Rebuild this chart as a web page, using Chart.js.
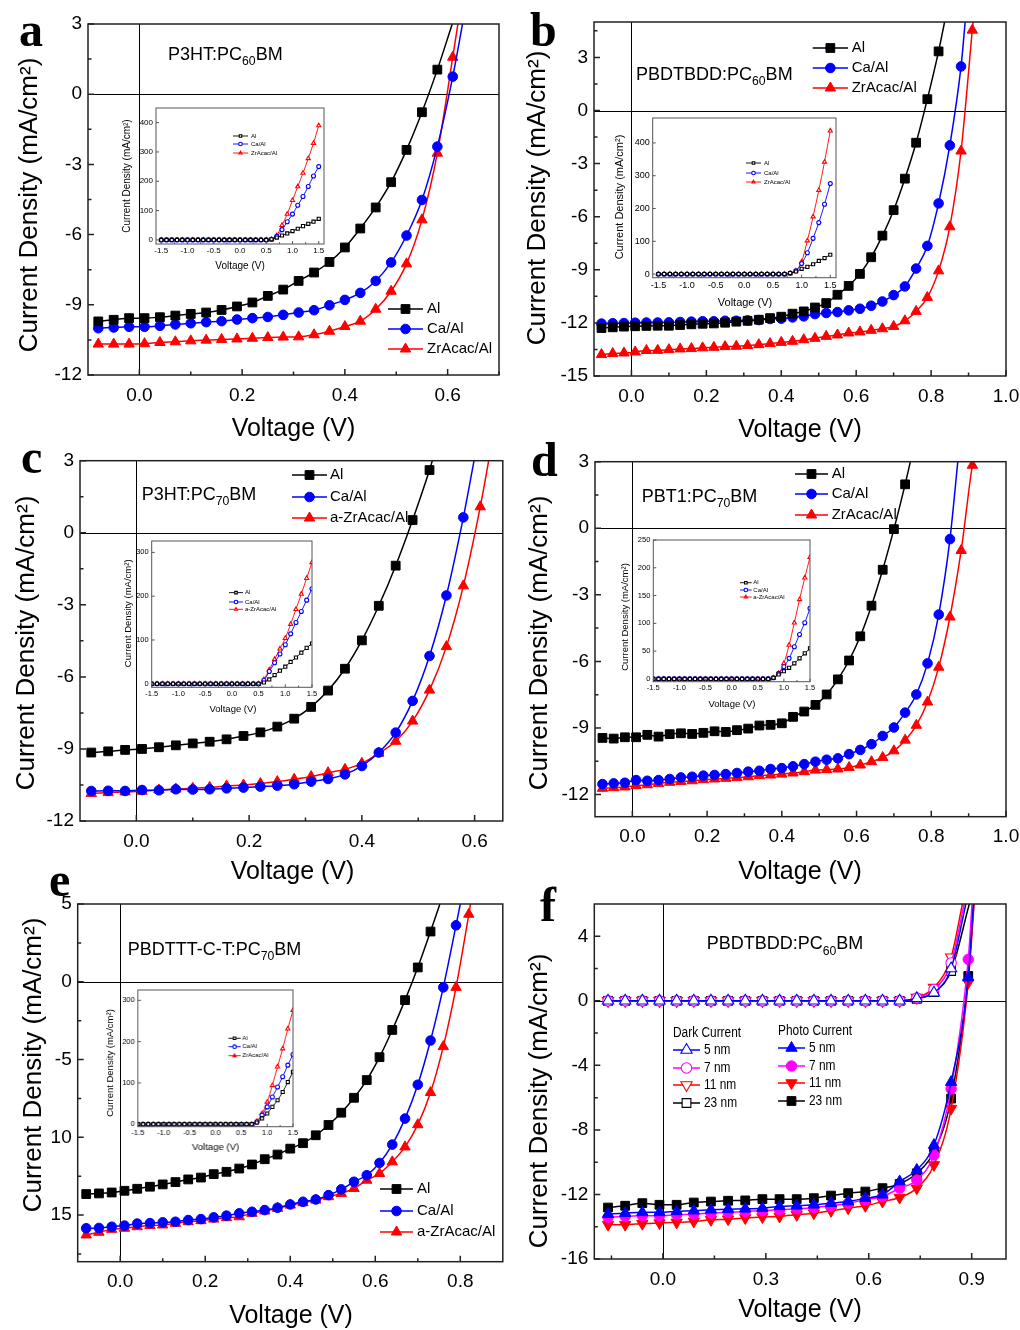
<!DOCTYPE html>
<html>
<head>
<meta charset="utf-8">
<title>J-V curves</title>
<script src="https://cdn.jsdelivr.net/npm/chart.js@4.4.1/dist/chart.umd.min.js"></script>
<style>
  html, body { margin: 0; padding: 0; background: #fff; }
  body { position: relative; width: 1020px; height: 1330px; overflow: hidden; }
  canvas { position: absolute; }
</style>
</head>
<body>
<script>
// ---------- panel a: P3HT:PC60BM ----------
const aV = [-0.08, -0.05, -0.02, 0.01, 0.04, 0.07, 0.10, 0.13, 0.16, 0.19, 0.22, 0.25, 0.28, 0.31, 0.34, 0.37, 0.40, 0.43, 0.46, 0.49, 0.52, 0.55, 0.58, 0.61]
const aAl = [-9.71, -9.64, -9.57, -9.57, -9.53, -9.46, -9.39, -9.33, -9.22, -9.07, -8.90, -8.62, -8.35, -7.98, -7.62, -7.17, -6.55, -5.74, -4.84, -3.76, -2.38, -0.77, 1.05]
const aCa = [-10.0, -9.97, -9.94, -9.94, -9.90, -9.84, -9.79, -9.74, -9.70, -9.63, -9.57, -9.52, -9.43, -9.33, -9.23, -9.02, -8.79, -8.49, -7.98, -7.19, -6.04, -4.52, -2.24, 0.75]
const aZr = [-10.68, -10.68, -10.68, -10.66, -10.61, -10.58, -10.54, -10.51, -10.48, -10.46, -10.43, -10.40, -10.38, -10.37, -10.28, -10.13, -9.93, -9.70, -9.19, -8.42, -7.25, -5.37, -2.52, 1.58]
const aExit = [0.609, 0.629, 0.620] // voltage where each curve leaves the top of the frame

// ---------- panel b: PBDTBDD:PC60BM ----------
const bV = [-0.08, -0.05, -0.02, 0.01, 0.04, 0.07, 0.10, 0.13, 0.16, 0.19, 0.22, 0.25, 0.28, 0.31, 0.34, 0.37, 0.40, 0.43, 0.46, 0.49, 0.52, 0.55, 0.58, 0.61, 0.64, 0.67, 0.70, 0.73, 0.76, 0.79, 0.82, 0.85, 0.88, 0.91]
const bAl = [-12.29, -12.25, -12.21, -12.19, -12.17, -12.16, -12.16, -12.12, -12.08, -12.05, -12.03, -11.99, -11.93, -11.88, -11.82, -11.73, -11.65, -11.48, -11.35, -11.13, -10.88, -10.41, -9.91, -9.23, -8.29, -7.07, -5.63, -3.85, -1.82, 0.64, 3.34]
const bCa = [-12.04, -12.02, -12.01, -11.99, -11.98, -11.98, -11.97, -11.95, -11.93, -11.91, -11.91, -11.88, -11.88, -11.86, -11.84, -11.78, -11.76, -11.69, -11.63, -11.50, -11.44, -11.39, -11.29, -11.20, -11.03, -10.79, -10.43, -9.94, -8.93, -7.65, -5.25, -1.97, 2.49]
const bZr = [-13.79, -13.73, -13.70, -13.64, -13.56, -13.55, -13.51, -13.47, -13.45, -13.41, -13.38, -13.34, -13.32, -13.28, -13.23, -13.17, -13.10, -13.04, -12.95, -12.87, -12.76, -12.68, -12.57, -12.51, -12.42, -12.33, -12.20, -11.88, -11.35, -10.56, -9.06, -6.57, -2.29, 4.54]
const bExit = [0.836, 0.891, 0.912]

// ---------- panel c: P3HT:PC70BM ----------
const cV = [-0.08, -0.05, -0.02, 0.01, 0.04, 0.07, 0.10, 0.13, 0.16, 0.19, 0.22, 0.25, 0.28, 0.31, 0.34, 0.37, 0.40, 0.43, 0.46, 0.49, 0.52, 0.55, 0.58, 0.61]
const cAl = [-9.15, -9.10, -9.04, -9.00, -8.93, -8.85, -8.77, -8.70, -8.60, -8.46, -8.31, -8.07, -7.74, -7.25, -6.57, -5.66, -4.48, -3.04, -1.37, 0.53, 2.61]
const cCa = [-10.75, -10.74, -10.75, -10.71, -10.72, -10.68, -10.69, -10.68, -10.64, -10.61, -10.57, -10.53, -10.47, -10.36, -10.25, -10.06, -9.71, -9.15, -8.32, -7.00, -5.13, -2.61, 0.64]
const cZr = [-10.85, -10.82, -10.79, -10.76, -10.71, -10.67, -10.64, -10.60, -10.54, -10.50, -10.44, -10.36, -10.26, -10.15, -9.99, -9.85, -9.60, -9.18, -8.68, -7.84, -6.55, -4.74, -2.21, 1.08]
const cExit = [0.525, 0.599, 0.625]

// ---------- panel d: PBT1:PC70BM ----------
const dV = [-0.08, -0.05, -0.02, 0.01, 0.04, 0.07, 0.10, 0.13, 0.16, 0.19, 0.22, 0.25, 0.28, 0.31, 0.34, 0.37, 0.40, 0.43, 0.46, 0.49, 0.52, 0.55, 0.58, 0.61, 0.64, 0.67, 0.70, 0.73, 0.76, 0.79, 0.82, 0.85, 0.88, 0.91]
const dAl = [-9.45, -9.48, -9.42, -9.42, -9.31, -9.39, -9.28, -9.24, -9.27, -9.22, -9.15, -9.18, -9.10, -9.03, -8.89, -8.86, -8.79, -8.50, -8.26, -7.96, -7.49, -6.81, -5.96, -4.87, -3.49, -1.87, -0.04, 1.98]
const dCa = [-11.53, -11.50, -11.47, -11.35, -11.38, -11.35, -11.30, -11.23, -11.20, -11.15, -11.12, -11.08, -11.03, -10.97, -10.93, -10.85, -10.81, -10.73, -10.63, -10.52, -10.43, -10.37, -10.18, -9.99, -9.73, -9.36, -8.98, -8.31, -7.49, -6.09, -3.89, -0.49]
const dZr = [-11.72, -11.69, -11.66, -11.60, -11.56, -11.50, -11.45, -11.41, -11.38, -11.33, -11.30, -11.27, -11.24, -11.20, -11.15, -11.12, -11.08, -11.03, -10.97, -10.90, -10.88, -10.85, -10.78, -10.67, -10.52, -10.33, -10.03, -9.55, -8.88, -7.83, -6.26, -4.00, -1.00, 2.84]
const dExit = [0.744, 0.871, 0.912]

// ---------- panel e: PBDTTT-C-T:PC70BM ----------
const eV = [-0.08, -0.05, -0.02, 0.01, 0.04, 0.07, 0.10, 0.13, 0.16, 0.19, 0.22, 0.25, 0.28, 0.31, 0.34, 0.37, 0.40, 0.43, 0.46, 0.49, 0.52, 0.55, 0.58, 0.61, 0.64, 0.67, 0.70, 0.73, 0.76, 0.79, 0.82]
const eAl = [-13.65, -13.61, -13.55, -13.44, -13.31, -13.18, -13.03, -12.88, -12.71, -12.59, -12.37, -12.22, -12.01, -11.75, -11.41, -11.11, -10.73, -10.38, -9.87, -9.21, -8.42, -7.46, -6.32, -4.85, -3.10, -1.18, 0.92, 3.23]
const eCa = [-15.85, -15.83, -15.75, -15.68, -15.55, -15.52, -15.47, -15.43, -15.32, -15.26, -15.15, -15.04, -14.89, -14.79, -14.68, -14.53, -14.32, -14.15, -14.00, -13.72, -13.35, -12.86, -12.44, -11.65, -10.47, -8.80, -6.62, -3.78, -0.36, 3.63]
const eZr = [-16.28, -16.11, -15.92, -15.85, -15.75, -15.68, -15.64, -15.53, -15.43, -15.36, -15.26, -15.17, -15.11, -14.89, -14.74, -14.57, -14.36, -14.21, -14.04, -13.82, -13.61, -13.29, -12.76, -12.33, -11.58, -10.62, -9.19, -7.12, -4.17, -0.36, 4.34]
const eExit = [0.752, 0.800, 0.824]

// ---------- panel f: PBDTBDD:PC60BM, ZrAcac thickness ----------
const fV = [-0.16, -0.11, -0.06, -0.01, 0.04, 0.09, 0.14, 0.19, 0.24, 0.29, 0.34, 0.39, 0.44, 0.49, 0.54, 0.59, 0.64, 0.69, 0.74, 0.79, 0.84, 0.89]
const fDark5 = [0, 0, 0, 0, 0, 0, 0, 0, 0, 0, 0, 0, 0, 0, 0, 0, 0, 0, 0.15, 0.50, 2.00]
const fDark7 = [0, 0, 0, 0, 0, 0, 0, 0, 0, 0, 0, 0, 0, 0, 0, 0, 0, 0, 0.18, 0.70, 2.35]
const fDark11 = [0, 0, 0, 0, 0, 0, 0, 0, 0, 0, 0, 0, 0, 0, 0, 0, 0, 0, 0.20, 0.82, 2.70]
const fDark23 = [0, 0, 0, 0, 0, 0, 0, 0, 0, 0, 0, 0, 0, 0, 0, 0, 0, 0, 0.12, 0.55, 1.85]
const fPhoto5 = [-13.22, -13.16, -13.11, -13.11, -13.05, -13.01, -12.95, -12.91, -12.89, -12.85, -12.74, -12.70, -12.64, -12.54, -12.44, -12.23, -12.02, -11.20, -10.48, -8.94, -5.04, 1.44]
const fPhoto7 = [-13.42, -13.36, -13.32, -13.32, -13.26, -13.22, -13.16, -13.11, -13.05, -13.01, -12.95, -12.89, -12.81, -12.70, -12.54, -12.33, -12.13, -11.61, -11.10, -9.56, -5.45, 2.57]
const fPhoto11 = [-13.87, -13.87, -13.81, -13.77, -13.73, -13.67, -13.57, -13.53, -13.46, -13.40, -13.36, -13.26, -13.16, -13.01, -12.85, -12.70, -12.44, -12.19, -11.61, -10.17, -6.68, 1.13]
const fPhoto23 = [-12.81, -12.70, -12.54, -12.64, -12.64, -12.50, -12.44, -12.39, -12.37, -12.29, -12.29, -12.29, -12.23, -12.07, -11.92, -11.82, -11.61, -11.35, -10.69, -9.35, -6.06, 1.54]
const fDarkExit = [0.883, 0.878, 0.873, 0.893]
const fPhotoExit = [0.905, 0.901, 0.907, 0.906]
const fLabels = ['5 nm', '7 nm', '11 nm', '23 nm']

// ---------- insets: dark J-V over -1.5..1.5 V ----------
const inV = [-1.5, -1.4, -1.3, -1.2, -1.1, -1.0, -0.9, -0.8, -0.7, -0.6, -0.5, -0.4, -0.3, -0.2, -0.1, 0, 0.1, 0.2, 0.3, 0.4, 0.5, 0.6, 0.7, 0.8, 0.9, 1.0, 1.1, 1.2, 1.3, 1.4, 1.5]
const iaAl = [0, 0, 0, 0, 0, 0, 0, 0, 0, 0, 0, 0, 0, 0, 0, 0, 0, 0, 0, 0, 0, 2, 8, 15, 22, 30, 38, 47, 55, 62, 72]
const iaCa = [0, 0, 0, 0, 0, 0, 0, 0, 0, 0, 0, 0, 0, 0, 0, 0, 0, 0, 0, 0, 0, 2, 12, 35, 62, 88, 118, 148, 182, 218, 250]
const iaZr = [0, 0, 0, 0, 0, 0, 0, 0, 0, 0, 0, 0, 0, 0, 0, 0, 0, 0, 0, 0, 0, 2, 15, 50, 88, 135, 182, 228, 278, 330, 390]
const ibAl = [0, 0, 0, 0, 0, 0, 0, 0, 0, 0, 0, 0, 0, 0, 0, 0, 0, 0, 0, 0, 0, 0, 0, 3, 8, 16, 22, 30, 40, 49, 59]
const ibCa = [0, 0, 0, 0, 0, 0, 0, 0, 0, 0, 0, 0, 0, 0, 0, 0, 0, 0, 0, 0, 0, 0, 0, 3, 10, 32, 65, 109, 157, 213, 276]
const ibZr = [0, 0, 0, 0, 0, 0, 0, 0, 0, 0, 0, 0, 0, 0, 0, 0, 0, 0, 0, 0, 0, 0, 0, 2, 10, 38, 102, 175, 256, 342, 437]
const icAl = [0, 0, 0, 0, 0, 0, 0, 0, 0, 0, 0, 0, 0, 0, 0, 0, 0, 0, 0, 0, 0, 3, 10, 20, 30, 39, 50, 60, 71, 82, 92]
const icCa = [0, 0, 0, 0, 0, 0, 0, 0, 0, 0, 0, 0, 0, 0, 0, 0, 0, 0, 0, 0, 0, 8, 28, 48, 68, 89, 114, 140, 165, 191, 217]
const icZr = [0, 0, 0, 0, 0, 0, 0, 0, 0, 0, 0, 0, 0, 0, 0, 0, 0, 0, 0, 0, 0, 10, 32, 56, 80, 104, 136, 170, 205, 241, 277]
const idAl = [0, 0, 0, 0, 0, 0, 0, 0, 0, 0, 0, 0, 0, 0, 0, 0, 0, 0, 0, 0, 0, 0, 0, 2, 8, 14, 20, 28, 37, 46, 55]
const idCa = [0, 0, 0, 0, 0, 0, 0, 0, 0, 0, 0, 0, 0, 0, 0, 0, 0, 0, 0, 0, 0, 0, 0, 2, 10, 22, 37, 58, 80, 101, 127]
const idZr = [0, 0, 0, 0, 0, 0, 0, 0, 0, 0, 0, 0, 0, 0, 0, 0, 0, 0, 0, 0, 0, 0, 0, 2, 10, 28, 61, 101, 143, 182, 219]
const ieAl = [0, 0, 0, 0, 0, 0, 0, 0, 0, 0, 0, 0, 0, 0, 0, 0, 0, 0, 0, 0, 0, 0, 0, 4, 14, 26, 42, 58, 78, 102, 127]
const ieCa = [0, 0, 0, 0, 0, 0, 0, 0, 0, 0, 0, 0, 0, 0, 0, 0, 0, 0, 0, 0, 0, 0, 0, 6, 22, 42, 66, 90, 115, 143, 169]
const ieZr = [0, 0, 0, 0, 0, 0, 0, 0, 0, 0, 0, 0, 0, 0, 0, 0, 0, 0, 0, 0, 0, 0, 0, 7, 26, 54, 94, 139, 183, 231, 276]

// ---------- ticks ----------
const xTicks6 = [0, 0.2, 0.4, 0.6], xLabels6 = ['0.0', '0.2', '0.4', '0.6']
const xTicks8 = [0, 0.2, 0.4, 0.6, 0.8], xLabels8 = ['0.0', '0.2', '0.4', '0.6', '0.8']
const xTicks10 = [0, 0.2, 0.4, 0.6, 0.8, 1.0], xLabels10 = ['0.0', '0.2', '0.4', '0.6', '0.8', '1.0']
const xMinorOdd = [0.1, 0.3, 0.5, 0.7, 0.9]
const fXTicks = [0, 0.3, 0.6, 0.9], fXLabels = ['0.0', '0.3', '0.6', '0.9'], fXMinor = [-0.15, 0.15, 0.45, 0.75]
const yTicks3 = [3, 0, -3, -6, -9, -12], yLabels3 = ['3', '0', '-3', '-6', '-9', '-12']
const yMinor3 = [1.5, -1.5, -4.5, -7.5, -10.5]
const bYTicks = [3, 0, -3, -6, -9, -12, -15], bYLabels = ['3', '0', '-3', '-6', '-9', '-12', '-15']
const bYMinor = [4.5, 1.5, -1.5, -4.5, -7.5, -10.5, -13.5]
const eYTicks = [5, 0, -5, -10, -15], eYLabels = ['5', '0', '-5', '10', '15'], eYMinor = [2.5, -2.5, -7.5, -12.5, -17.5]
const fYTicks = [4, 0, -4, -8, -12, -16], fYLabels = ['4', '0', '-4', '-8', '-12', '-16'], fYMinor = [2, -2, -6, -10, -14]
const inXTicks = [-1.5, -1, -0.5, 0, 0.5, 1, 1.5], inXLabels = ['-1.5', '-1.0', '-0.5', '0.0', '0.5', '1.0', '1.5']
const inXMinor = [-1.25, -0.75, -0.25, 0.25, 0.75, 1.25]
const inY400 = [0, 100, 200, 300, 400], inY400Labels = ['0', '100', '200', '300', '400']
const inY300 = [0, 100, 200, 300], inY300Labels = ['0', '100', '200', '300']
const inY250 = [0, 50, 100, 150, 200, 250], inY250Labels = ['0', '50', '100', '150', '200', '250']

// ---------- styles ----------
const SANS = '"Liberation Sans", Arial, sans-serif'
const SERIF = '"Liberation Serif", "Times New Roman", serif'
const BLACK = '#000000', BLUE = '#0000ff', RED = '#ff0000', MAGENTA = '#ff00ff'
const Y_TITLE = 'Current Density (mA/cm²)'

const MAIN = { tick: 19, xPad: 9, yPad: 6, frame: 1.5, frameColor: '#222', major: 6, minor: 3.5, xTitle: 25, yTitle: 26, zero: true }
const INSET = { xPad: 2, yPad: 3, frame: 1, frameColor: '#555', major: 3, minor: 1.8, zero: false }

const mainMarks = [
  { color: BLACK, shape: 'rect', r: 6.2 },
  { color: BLUE, shape: 'circle', r: 4.8 },
  { color: RED, shape: 'triangle', r: 6 },
]
const insetMarks = [
  { color: BLACK, shape: 'rect', r: 2.2, open: true, lw: 0.9 },
  { color: BLUE, shape: 'circle', r: 2, open: true, lw: 0.9 },
  { color: RED, shape: 'triangle', r: 2.4, open: true, lw: 0.9 },
]
const fDarkMarks = [
  { color: BLUE, shape: 'triangle', r: 6.5, open: true },
  { color: MAGENTA, shape: 'circle', r: 5.2, open: true },
  { color: RED, shape: 'triangle', r: 6.5, rot: 180, open: true },
  { color: BLACK, shape: 'rect', r: 6.2, open: true },
]
const fPhotoMarks = fDarkMarks.map(m => ({ ...m, open: false }))

// one line series; the optional exit point carries the curve up to the top edge without a marker
const series = (label, xs, ys, st, exitV, top) => {
  const data = ys.map((y, i) => ({ x: xs[i], y }))
  if (exitV !== undefined) data.push({ x: exitV, y: top })
  const n = ys.length
  return {
    label,
    data,
    borderColor: st.color,
    borderWidth: st.lw || 1.5,
    pointStyle: st.shape,
    pointRotation: st.rot || 0,
    pointRadius: ctx => (ctx.dataIndex < n ? st.r : 0),
    markerRadius: st.r,
    pointBorderColor: st.color,
    pointBackgroundColor: st.open ? '#ffffff' : st.color,
    pointBorderWidth: st.open ? 1.1 : 1,
    cubicInterpolationMode: 'monotone',
    fill: false,
  }
}

const place = (left, top, w, h) => {
  const c = document.createElement('canvas')
  c.width = w
  c.height = h
  c.style.left = left + 'px'
  c.style.top = top + 'px'
  c.style.width = w + 'px'
  c.style.height = h + 'px'
  document.body.appendChild(c)
  return c
}

function drawText(ctx, str, x, y, font, squeeze) {
  ctx.save()
  ctx.font = font
  ctx.fillStyle = '#000'
  ctx.textAlign = 'left'
  ctx.textBaseline = 'middle'
  ctx.translate(x, y)
  ctx.scale(squeeze || 1, 1)
  ctx.fillText(str, 0, 0)
  ctx.restore()
}

function drawTitle(ctx, t) {
  ctx.save()
  ctx.translate(t.x, t.y)
  if (t.rot) ctx.rotate(t.rot)
  ctx.font = `${t.size}px ${SANS}`
  ctx.fillStyle = '#000'
  ctx.textAlign = 'center'
  ctx.textBaseline = 'middle'
  ctx.fillText(t.text, 0, 0)
  ctx.restore()
}

// text with subscripts, e.g. PC60BM
function drawNote(ctx, n) {
  ctx.save()
  ctx.fillStyle = '#000'
  ctx.textAlign = 'left'
  ctx.textBaseline = 'alphabetic'
  let cx = n.x
  for (const [t, sub] of n.parts) {
    const size = sub ? n.size * 0.68 : n.size
    ctx.font = `${n.weight || 'normal'} ${size}px ${n.family || SANS}`
    ctx.fillText(t, cx, n.y + (sub ? n.size * 0.3 : 0))
    cx += ctx.measureText(t).width
  }
  ctx.restore()
}

function drawLegend(chart, l) {
  const { ctx } = chart
  const font = `${l.size}px ${SANS}`
  if (l.header) drawText(ctx, l.header, l.hx, l.hy, font, l.squeeze)
  l.items.forEach((idx, i) => {
    const ds = chart.data.datasets[idx]
    const yy = l.ys[i]
    ctx.save()
    ctx.strokeStyle = ds.borderColor
    ctx.lineWidth = ds.borderWidth
    ctx.beginPath()
    ctx.moveTo(l.x0, yy)
    ctx.lineTo(l.x1, yy)
    ctx.stroke()
    ctx.fillStyle = ds.pointBackgroundColor
    ctx.strokeStyle = ds.pointBorderColor
    ctx.lineWidth = ds.pointBorderWidth
    Chart.helpers.drawPoint(ctx, {
      pointStyle: ds.pointStyle,
      rotation: ds.pointRotation,
      radius: l.r || ds.markerRadius,
      borderWidth: ds.pointBorderWidth,
    }, (l.x0 + l.x1) / 2, yy)
    ctx.restore()
    drawText(ctx, ds.label, l.tx, yy, font, l.squeeze)
  })
}

// frame, inward ticks, zero lines, titles, notes and legends
const framePlugin = cfg => ({
  id: 'frame',
  beforeDatasetsDraw(chart) {
    if (!cfg.style.zero) return
    const { ctx, chartArea: a, scales: { x, y } } = chart
    const px = Math.round(x.getPixelForValue(0)) + 0.5
    const py = Math.round(y.getPixelForValue(0)) + 0.5
    ctx.save()
    ctx.strokeStyle = '#000'
    ctx.lineWidth = 1
    ctx.beginPath()
    ctx.moveTo(px, a.top)
    ctx.lineTo(px, a.bottom)
    ctx.moveTo(a.left, py)
    ctx.lineTo(a.right, py)
    ctx.stroke()
    ctx.restore()
  },
  afterDatasetsDraw(chart) {
    const { ctx, chartArea: a, scales: { x, y } } = chart
    const st = cfg.style
    ctx.save()
    ctx.strokeStyle = st.frameColor
    ctx.lineWidth = st.frame
    ctx.strokeRect(a.left, a.top, a.right - a.left, a.bottom - a.top)
    ctx.beginPath()
    for (const [vals, len] of [[cfg.x.ticks, st.major], [cfg.x.minor || [], st.minor]]) {
      for (const v of vals) {
        const px = x.getPixelForValue(v)
        ctx.moveTo(px, a.bottom)
        ctx.lineTo(px, a.bottom - len)
      }
    }
    for (const [vals, len] of [[cfg.y.ticks, st.major], [cfg.y.minor || [], st.minor]]) {
      for (const v of vals) {
        const py = y.getPixelForValue(v)
        ctx.moveTo(a.left, py)
        ctx.lineTo(a.left + len, py)
      }
    }
    ctx.stroke()
    ctx.restore()
    for (const t of cfg.titles) drawTitle(ctx, t)
    for (const n of cfg.notes) drawNote(ctx, n)
    for (const l of cfg.legends) drawLegend(chart, l)
  },
})

const axisOptions = (ax, horizontal, size, st) => ({
  type: 'linear',
  min: ax.min,
  max: ax.max,
  bounds: 'data',
  afterBuildTicks: s => { s.ticks = ax.ticks.map(value => ({ value })) },
  afterFit: s => {
    if (horizontal) { s.height = size; s.paddingLeft = 0; s.paddingRight = 0 }
    else { s.width = size; s.paddingTop = 0; s.paddingBottom = 0 }
  },
  grid: { display: false, drawTicks: false },
  border: { display: false },
  ticks: {
    autoSkip: false,
    maxRotation: 0,
    minRotation: 0,
    padding: horizontal ? st.xPad : st.yPad,
    color: '#000',
    font: { family: SANS, size: st.tick },
    callback: (v, i) => ax.labels[i],
  },
})

// p.box = canvas [left, top, width, height]; p.plot = chart area [L, T, R, B]; all in page pixels
function panel(p) {
  const [bl, bt, bw, bh] = p.box
  const [L, T, R, B] = p.plot
  const st = p.style
  const cfg = {
    style: st,
    x: p.x,
    y: p.y,
    titles: [
      { text: 'Voltage (V)', x: p.xTitleAt[0] - bl, y: p.xTitleAt[1] - bt, size: st.xTitle },
      { text: Y_TITLE, x: p.yTitleAt[0] - bl, y: p.yTitleAt[1] - bt, size: st.yTitle, rot: -Math.PI / 2 },
    ],
    notes: (p.notes || []).map(n => ({ ...n, x: n.x - bl, y: n.y - bt })),
    legends: (p.legends || []).map(l => ({
      ...l,
      x0: l.x0 - bl, x1: l.x1 - bl, tx: l.tx - bl,
      hx: (l.hx || 0) - bl, hy: (l.hy || 0) - bt,
      ys: l.ys.map(v => v - bt),
    })),
  }
  new Chart(place(bl, bt, bw, bh), {
    type: 'line',
    data: { datasets: p.datasets },
    options: {
      responsive: false,
      animation: false,
      devicePixelRatio: 1,
      events: [],
      layout: { padding: { top: T - bt, right: bl + bw - R, left: 0, bottom: 0 } },
      plugins: { legend: { display: false }, tooltip: { enabled: false } },
      scales: {
        x: axisOptions(p.x, true, bt + bh - B, st),
        y: axisOptions(p.y, false, L - bl, st),
      },
    },
    plugins: [framePlugin(cfg)],
  })
}

const trio = (xs, ys, names, marks, exits, top) =>
  ys.map((v, i) => series(names[i], xs, v, marks[i], exits && exits[i], top))

const letter = (ch, x, y) => ({ x, y, parts: [[ch]], size: 48, family: SERIF, weight: 'bold' })
const formula = (pre, sub, x, y) => ({ x, y, parts: [[pre], [sub, true], ['BM']], size: 18 })
const mainLegend = (x0, x1, tx, ys) => ({ x0, x1, tx, ys, items: [0, 1, 2], size: 15 })
const insetLegend = (x0, x1, tx, ys) => ({ x0, x1, tx, ys, items: [0, 1, 2], size: 6, r: 1.8 })

function inset(o) {
  const [L, T, R, B] = o.plot
  const left = o.yTitleAt[0] - 8
  const top = T - 6
  const right = R + 9
  const bottom = o.xTitleAt[1] + 8
  panel({
    box: [left, top, right - left, bottom - top],
    plot: o.plot,
    style: { ...INSET, tick: o.tick, xTitle: o.title, yTitle: o.title },
    x: { min: o.xMin, max: o.xMax, ticks: inXTicks, labels: inXLabels, minor: inXMinor },
    y: o.y,
    xTitleAt: o.xTitleAt,
    yTitleAt: o.yTitleAt,
    datasets: trio(inV, o.data, o.names, insetMarks),
    legends: [insetLegend(...o.legend)],
  })
}

const NAMES = ['Al', 'Ca/Al', 'ZrAcac/Al']
const NAMES_A = ['Al', 'Ca/Al', 'a-ZrAcac/Al']

// ---- a ----
panel({
  box: [0, 0, 510, 450], plot: [88, 24, 499, 375], style: MAIN,
  x: { min: -0.1, max: 0.7, ticks: xTicks6, labels: xLabels6, minor: xMinorOdd },
  y: { min: -12, max: 3, ticks: yTicks3, labels: yLabels3, minor: yMinor3 },
  xTitleAt: [293.5, 429], yTitleAt: [30, 205],
  datasets: trio(aV, [aAl, aCa, aZr], NAMES, mainMarks, aExit, 3),
  legends: [mainLegend(388, 423, 427, [309, 329, 349])],
  notes: [letter('a', 19, 46), formula('P3HT:PC', '60', 168, 60)],
})
inset({
  plot: [156, 108, 324, 244], xMin: -1.6, xMax: 1.6, tick: 8, title: 10,
  y: { min: -14, max: 450, ticks: inY400, labels: inY400Labels, minor: [] },
  xTitleAt: [240, 266], yTitleAt: [127, 176],
  data: [iaAl, iaCa, iaZr], names: NAMES,
  legend: [233, 248, 251, [136, 144, 153]],
})

// ---- b ----
panel({
  box: [510, 0, 510, 450], plot: [594, 22, 1006, 376], style: MAIN,
  x: { min: -0.1, max: 1.0, ticks: xTicks10, labels: xLabels10, minor: xMinorOdd },
  y: { min: -15, max: 5, ticks: bYTicks, labels: bYLabels, minor: bYMinor },
  xTitleAt: [800, 430], yTitleAt: [538, 198],
  datasets: trio(bV, [bAl, bCa, bZr], NAMES, mainMarks, bExit, 5),
  legends: [mainLegend(812.7, 848, 851.7, [48, 68, 88])],
  notes: [letter('b', 530, 46), formula('PBDTBDD:PC', '60', 636, 80)],
})
inset({
  plot: [652.7, 118, 836, 277.7], xMin: -1.6, xMax: 1.6, tick: 9, title: 11,
  y: { min: -11, max: 476, ticks: inY400, labels: inY400Labels, minor: [] },
  xTitleAt: [745, 303], yTitleAt: [620, 197],
  data: [ibAl, ibCa, ibZr], names: NAMES,
  legend: [746, 761, 764, [163, 173, 182]],
})

// ---- c ----
panel({
  box: [0, 440, 510, 450], plot: [80, 460.7, 505, 821], style: MAIN,
  x: { min: -0.1, max: 0.65, ticks: xTicks6, labels: xLabels6, minor: [0.1, 0.3, 0.5] },
  y: { min: -12, max: 3, ticks: yTicks3, labels: yLabels3, minor: yMinor3 },
  xTitleAt: [292.5, 872], yTitleAt: [27, 643],
  datasets: trio(cV, [cAl, cCa, cZr], NAMES_A, mainMarks, cExit, 3),
  legends: [mainLegend(292, 327, 330, [475, 497, 518])],
  notes: [letter('c', 21, 473), formula('P3HT:PC', '70', 141.7, 500)],
})
inset({
  plot: [151.7, 540.7, 312.3, 687.3], xMin: -1.5, xMax: 1.5, tick: 7.5, title: 9.5,
  y: { min: -8, max: 326, ticks: inY300, labels: inY300Labels, minor: [] },
  xTitleAt: [233, 709], yTitleAt: [128, 613],
  data: [icAl, icCa, icZr], names: NAMES_A,
  legend: [229, 243, 245, [592.3, 601.7, 609]],
})

// ---- d ----
panel({
  box: [510, 440, 510, 450], plot: [595, 461.7, 1006, 816.7], style: MAIN,
  x: { min: -0.1, max: 1.0, ticks: xTicks10, labels: xLabels10, minor: xMinorOdd },
  y: { min: -13, max: 3, ticks: yTicks3, labels: yLabels3, minor: yMinor3 },
  xTitleAt: [800, 872], yTitleAt: [539.5, 643],
  datasets: trio(dV, [dAl, dCa, dZr], NAMES, mainMarks, dExit, 3),
  legends: [mainLegend(795, 828, 831.7, [474, 494, 515])],
  notes: [letter('d', 531, 476), formula('PBT1:PC', '70', 641.7, 501.7)],
})
inset({
  plot: [653.3, 540, 810, 681.7], xMin: -1.5, xMax: 1.5, tick: 7.5, title: 9.5,
  y: { min: -5, max: 250, ticks: inY250, labels: inY250Labels, minor: [] },
  xTitleAt: [732, 704], yTitleAt: [625, 617],
  data: [idAl, idCa, idZr], names: NAMES_A,
  legend: [740, 751.7, 753.3, [582.7, 590, 597]],
})

// ---- e ----
panel({
  box: [0, 860, 510, 470], plot: [77.7, 904, 504, 1261.7], style: MAIN,
  x: { min: -0.1, max: 0.9, ticks: xTicks8, labels: xLabels8, minor: [0.1, 0.3, 0.5, 0.7] },
  y: { min: -18, max: 5, ticks: eYTicks, labels: eYLabels, minor: eYMinor },
  xTitleAt: [291, 1316], yTitleAt: [34, 1065],
  datasets: trio(eV, [eAl, eCa, eZr], NAMES_A, mainMarks, eExit, 5),
  legends: [mainLegend(380, 413, 417, [1189, 1211, 1232])],
  notes: [letter('e', 49, 896), formula('PBDTTT-C-T:PC', '70', 127.7, 955)],
})
inset({
  plot: [137.7, 990, 292.7, 1126.7], xMin: -1.5, xMax: 1.5, tick: 7.5, title: 9.5,
  y: { min: -6, max: 325, ticks: inY300, labels: inY300Labels, minor: [] },
  xTitleAt: [215, 1147], yTitleAt: [110, 1063],
  data: [ieAl, ieCa, ieZr], names: NAMES,
  legend: [227.7, 240, 241.5, [1038.3, 1046.7, 1055.7]],
})

// ---- f ----
panel({
  box: [510, 880, 510, 450], plot: [594.3, 904, 1006, 1259], style: MAIN,
  x: { min: -0.2, max: 1.0, ticks: fXTicks, labels: fXLabels, minor: fXMinor },
  y: { min: -16, max: 6, ticks: fYTicks, labels: fYLabels, minor: fYMinor },
  xTitleAt: [800, 1310], yTitleAt: [540, 1101],
  datasets: [
    ...trio(fV, [fDark5, fDark7, fDark11, fDark23], fLabels, fDarkMarks, fDarkExit, 6),
    ...trio(fV, [fPhoto5, fPhoto7, fPhoto11, fPhoto23], fLabels, fPhotoMarks, fPhotoExit, 6),
  ],
  legends: [
    { header: 'Dark Current', hx: 673, hy: 1033, x0: 673, x1: 700, tx: 704, ys: [1050, 1068, 1085, 1103], items: [0, 1, 2, 3], size: 14, squeeze: 0.85 },
    { header: 'Photo Current', hx: 778, hy: 1031, x0: 778, x1: 805, tx: 809, ys: [1048, 1066, 1083, 1101], items: [4, 5, 6, 7], size: 14, squeeze: 0.85 },
  ],
  notes: [letter('f', 540, 921), formula('PBDTBDD:PC', '60', 706.7, 949.3)],
})
</script>
</body>
</html>
